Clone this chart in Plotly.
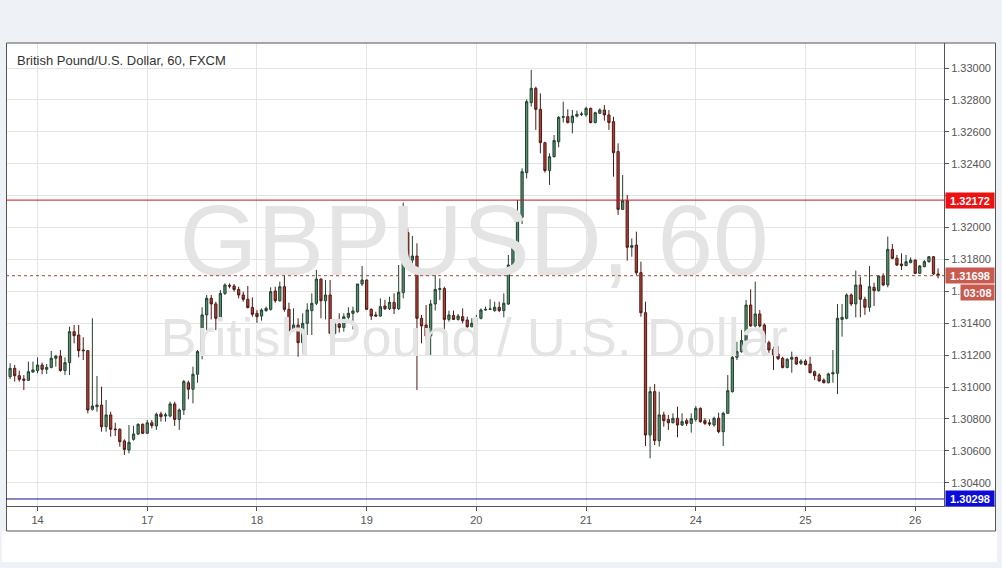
import plotly.graph_objects as go

# ---------------- data (GBPUSD, H1) ----------------
opens = [1.31065,1.31117,1.31071,1.31050,1.31042,1.31094,1.31103,1.31138,1.31111,1.31123,
         1.31180,1.31194,1.31103,1.31153,1.31347,1.31326,1.31232,1.31228,1.30860,1.30877,
         1.30887,1.30751,1.30825,1.30737,1.30735,1.30662,1.30605,1.30672,1.30705,1.30766,
         1.30710,1.30776,1.30756,1.30831,1.30818,1.30818,1.30894,1.30797,1.30856,1.31027,
         1.30986,1.31080,1.31222,1.31452,1.31556,1.31521,1.31431,1.31587,1.31638,1.31633,
         1.31612,1.31577,1.31550,1.31498,1.31462,1.31445,1.31479,1.31487,1.31602,1.31541,
         1.31629,1.31487,1.31357,1.31389,1.31278,1.31399,1.31479,1.31525,1.31677,1.31541,
         1.31577,1.31337,1.31395,1.31374,1.31437,1.31462,1.31472,1.31646,1.31671,1.31487,
         1.31452,1.31445,1.31508,1.31491,1.31531,1.31491,1.31592,1.31968,1.31796,1.31821,
         1.31431,1.31389,1.31320,1.31521,1.31612,1.31617,1.31424,1.31449,1.31424,1.31441,
         1.31420,1.31378,1.31399,1.31431,1.31483,1.31487,1.31479,1.31500,1.31479,1.31521,
         1.31765,1.31905,1.32064,1.32344,1.32783,1.32873,1.32741,1.32532,1.32357,1.32444,
         1.32538,1.32691,1.32695,1.32658,1.32699,1.32708,1.32706,1.32747,1.32658,1.32716,
         1.32737,1.32706,1.32664,1.32476,1.32114,1.32168,1.31876,1.31890,1.31717,1.31466,
         1.30699,1.30971,1.30664,1.30825,1.30797,1.30776,1.30804,1.30762,1.30789,1.30772,
         1.30797,1.30866,1.30789,1.30776,1.30762,1.30804,1.30720,1.30835,1.30971,1.31186,
         1.31222,1.31291,1.31514,1.31383,1.31458,1.31389,1.31278,1.31236,1.31207,1.31180,
         1.31123,1.31174,1.31186,1.31149,1.31163,1.31144,1.31096,1.31075,1.31044,1.31027,
         1.31082,1.31086,1.31424,1.31431,1.31577,1.31521,1.31640,1.31550,1.31500,1.31625,
         1.31604,1.31696,1.31640,1.31863,1.31807,1.31771,1.31761,1.31780,1.31796,1.31713,
         1.31755,1.31786,1.31817,1.31709]
highs = [1.31149,1.31138,1.31103,1.31075,1.31159,1.31159,1.31186,1.31153,1.31144,1.31226,
         1.31201,1.31232,1.31186,1.31378,1.31389,1.31389,1.31312,1.31232,1.31431,1.31069,
         1.31002,1.30919,1.30845,1.30776,1.30741,1.30672,1.30762,1.30756,1.30772,1.30772,
         1.30793,1.30793,1.30839,1.30845,1.30839,1.30908,1.30908,1.30866,1.31044,1.31040,
         1.31128,1.31232,1.31500,1.31577,1.31577,1.31535,1.31608,1.31650,1.31650,1.31646,
         1.31629,1.31598,1.31633,1.31562,1.31483,1.31493,1.31504,1.31625,1.31629,1.31661,
         1.31702,1.31529,1.31493,1.31431,1.31462,1.31525,1.31587,1.31734,1.31681,1.31671,
         1.31671,1.31420,1.31462,1.31462,1.31500,1.31504,1.31646,1.31759,1.31675,1.31493,
         1.31472,1.31556,1.31546,1.31566,1.31587,1.31765,1.32156,1.31995,1.31947,1.31901,
         1.31452,1.31514,1.31546,1.31713,1.31681,1.31629,1.31479,1.31479,1.31458,1.31493,
         1.31441,1.31431,1.31452,1.31493,1.31504,1.31550,1.31535,1.31535,1.31587,1.31828,
         1.31922,1.32173,1.32371,1.32804,1.32988,1.32883,1.32841,1.32538,1.32465,1.32580,
         1.32699,1.32789,1.32741,1.32737,1.32733,1.32726,1.32758,1.32752,1.32726,1.32747,
         1.32768,1.32737,1.32695,1.32528,1.32329,1.32204,1.31932,1.31974,1.31786,1.31535,
         1.31002,1.31019,1.30971,1.30845,1.30825,1.30835,1.30877,1.30835,1.30804,1.30835,
         1.30881,1.30873,1.30804,1.30797,1.30814,1.30839,1.30845,1.31075,1.31253,1.31284,
         1.31357,1.31546,1.31612,1.31661,1.31483,1.31399,1.31291,1.31253,1.31257,1.31190,
         1.31180,1.31222,1.31190,1.31174,1.31174,1.31190,1.31103,1.31086,1.31054,1.31090,
         1.31232,1.31521,1.31521,1.31587,1.31587,1.31730,1.31692,1.31566,1.31759,1.31654,
         1.31702,1.31713,1.31943,1.31897,1.31828,1.31838,1.31828,1.31813,1.31801,1.31765,
         1.31796,1.31821,1.31821,1.31744]
lows = [1.31050,1.31034,1.31034,1.30981,1.31038,1.31090,1.31086,1.31080,1.31082,1.31117,
        1.31128,1.31096,1.31075,1.31075,1.31274,1.31186,1.31169,1.30835,1.30852,1.30845,
        1.30720,1.30720,1.30689,1.30693,1.30626,1.30574,1.30584,1.30664,1.30699,1.30705,
        1.30705,1.30741,1.30731,1.30783,1.30783,1.30810,1.30756,1.30731,1.30825,1.30923,
        1.30898,1.31027,1.31174,1.31357,1.31424,1.31357,1.31424,1.31577,1.31619,1.31598,
        1.31556,1.31535,1.31493,1.31441,1.31403,1.31416,1.31472,1.31479,1.31529,1.31535,
        1.31472,1.31347,1.31347,1.31190,1.31215,1.31326,1.31326,1.31514,1.31431,1.31424,
        1.31332,1.31326,1.31341,1.31347,1.31424,1.31362,1.31466,1.31633,1.31483,1.31420,
        1.31441,1.31441,1.31483,1.31483,1.31458,1.31483,1.31556,1.31776,1.31776,1.30981,
        1.31274,1.31295,1.31201,1.31479,1.31546,1.31257,1.31410,1.31420,1.31416,1.31399,
        1.31362,1.31374,1.31395,1.31424,1.31479,1.31483,1.31472,1.31470,1.31437,1.31514,
        1.31755,1.31897,1.32022,1.32308,1.32758,1.32612,1.32465,1.32344,1.32267,1.32440,
        1.32503,1.32658,1.32653,1.32591,1.32691,1.32699,1.32695,1.32653,1.32653,1.32712,
        1.32670,1.32612,1.32319,1.32079,1.32110,1.31792,1.31817,1.31702,1.31441,1.30630,
        1.30553,1.30636,1.30626,1.30751,1.30731,1.30772,1.30685,1.30756,1.30756,1.30714,
        1.30783,1.30776,1.30762,1.30756,1.30751,1.30710,1.30630,1.30831,1.30965,1.31169,
        1.31215,1.31284,1.31378,1.31374,1.31374,1.31194,1.31211,1.31107,1.31169,1.31117,
        1.31117,1.31090,1.31138,1.31138,1.31136,1.31086,1.31044,1.31034,1.31023,1.31023,
        1.31027,1.30956,1.31316,1.31424,1.31508,1.31437,1.31437,1.31452,1.31472,1.31508,
        1.31598,1.31633,1.31625,1.31801,1.31759,1.31734,1.31759,1.31776,1.31709,1.31709,
        1.31750,1.31780,1.31702,1.31681]
closes = [1.31117,1.31071,1.31048,1.31042,1.31096,1.31107,1.31138,1.31111,1.31123,1.31180,
          1.31194,1.31103,1.31153,1.31347,1.31322,1.31228,1.31228,1.30856,1.30881,1.30887,
          1.30751,1.30825,1.30735,1.30733,1.30657,1.30609,1.30653,1.30705,1.30766,1.30710,
          1.30776,1.30758,1.30829,1.30814,1.30825,1.30894,1.30797,1.30856,1.31034,1.30986,
          1.31080,1.31222,1.31452,1.31556,1.31521,1.31431,1.31587,1.31640,1.31633,1.31612,
          1.31577,1.31550,1.31498,1.31456,1.31441,1.31483,1.31493,1.31598,1.31541,1.31629,
          1.31487,1.31357,1.31389,1.31278,1.31399,1.31483,1.31525,1.31677,1.31541,1.31577,
          1.31337,1.31395,1.31374,1.31441,1.31462,1.31477,1.31646,1.31671,1.31487,1.31445,
          1.31445,1.31504,1.31491,1.31531,1.31491,1.31594,1.31968,1.31796,1.31821,1.31431,
          1.31383,1.31320,1.31521,1.31612,1.31617,1.31424,1.31452,1.31424,1.31445,1.31416,
          1.31378,1.31399,1.31431,1.31483,1.31487,1.31489,1.31500,1.31479,1.31525,1.31765,
          1.31905,1.32064,1.32350,1.32789,1.32873,1.32741,1.32532,1.32357,1.32444,1.32545,
          1.32691,1.32695,1.32658,1.32699,1.32710,1.32712,1.32747,1.32658,1.32720,1.32737,
          1.32706,1.32658,1.32469,1.32114,1.32168,1.31876,1.31886,1.31717,1.31466,1.30699,
          1.30971,1.30664,1.30825,1.30789,1.30776,1.30804,1.30762,1.30783,1.30772,1.30802,
          1.30866,1.30783,1.30772,1.30768,1.30804,1.30720,1.30835,1.30977,1.31186,1.31222,
          1.31291,1.31514,1.31383,1.31458,1.31383,1.31278,1.31232,1.31201,1.31178,1.31123,
          1.31174,1.31186,1.31144,1.31163,1.31140,1.31090,1.31071,1.31038,1.31027,1.31082,
          1.31090,1.31431,1.31437,1.31577,1.31521,1.31640,1.31550,1.31500,1.31629,1.31604,
          1.31696,1.31640,1.31863,1.31807,1.31765,1.31761,1.31786,1.31796,1.31713,1.31759,
          1.31786,1.31817,1.31709,1.31698]
bars = list(range(len(opens)))

day_labels = ["14", "17", "18", "19", "20", "21", "24", "25", "26"]
day_first_bar = [6, 30, 54, 78, 102, 126, 150, 174, 198]
price_ticks = [1.304, 1.306, 1.308, 1.310, 1.312, 1.314, 1.316,
               1.318, 1.320, 1.322, 1.324, 1.326, 1.328, 1.330]

resistance = 1.32172
support = 1.30298
last_price = 1.31698
countdown = "03:08"
title_text = "British Pound/U.S. Dollar, 60, FXCM"
watermark_1 = "GBPUSD, 60"
watermark_2 = "British Pound / U.S. Dollar"

# ---------------- layout geometry ----------------
W, H = 1002, 568
PL, PR, PT, PB = 6, 944, 43, 506          # plot area in pixels
FONT = "Liberation Sans, Arial, sans-serif"


def px(x):
    return (x - PL) / (PR - PL)


def py(y):
    return (PB - y) / (PB - PT)


# hide the tick label that sits under the resistance price box (as in the reference)
tick_text = ["" if abs(v - 1.322) < 1e-9 else "%.5f" % v for v in price_ticks]

fig = go.Figure()

# watermark (drawn first, so it sits under the candles)
fig.add_trace(go.Scatter(
    x=[101.5, 101.5], y=[1.31858, 1.31282],
    mode="text", text=[watermark_1, watermark_2],
    textfont=dict(family=FONT, size=[100, 54], color="#e4e4e4"),
    textposition="middle center", hoverinfo="skip", showlegend=False,
))

fig.add_trace(go.Candlestick(
    x=bars, open=opens, high=highs, low=lows, close=closes,
    increasing=dict(fillcolor="#53926d", line=dict(color="#24402f", width=1)),
    decreasing=dict(fillcolor="#b23f36", line=dict(color="#4d1a15", width=1)),
    whiskerwidth=0, showlegend=False, hoverinfo="skip",
))

shapes = [
    # white strip under the chart frame
    dict(type="rect", xref="paper", yref="paper", layer="below",
         x0=px(2), x1=px(997), y0=py(562), y1=py(531),
         fillcolor="white", line=dict(width=0)),
    # white axis areas inside the frame
    dict(type="rect", xref="paper", yref="paper", layer="below",
         x0=px(6.5), x1=px(995.5), y0=py(531), y1=py(43),
         fillcolor="white", line=dict(width=0)),
    # frame
    dict(type="rect", xref="paper", yref="paper", layer="above",
         x0=px(6.5), x1=px(995.5), y0=py(531), y1=py(43),
         line=dict(color="#555555", width=1)),
    dict(type="line", xref="paper", yref="paper", layer="above",
         x0=px(944), x1=px(995.5), y0=0, y1=0,
         line=dict(color="#555555", width=1)),
    # horizontal levels
    dict(type="line", xref="paper", yref="y", layer="above",
         x0=0, x1=1, y0=resistance, y1=resistance,
         line=dict(color="#c3161c", width=1)),
    dict(type="line", xref="paper", yref="y", layer="above",
         x0=0, x1=1, y0=support, y1=support,
         line=dict(color="#101080", width=1)),
    dict(type="line", xref="paper", yref="y", layer="above",
         x0=0, x1=1, y0=last_price, y1=last_price,
         line=dict(color="#a8423c", width=1, dash="dot")),
]

annotations = [
    dict(text=title_text, xref="paper", yref="paper", x=px(15), y=py(60),
         xanchor="left", yanchor="middle", showarrow=False,
         font=dict(family=FONT, size=13, color="#333333")),
    dict(text="<b>%.5f</b>" % resistance, xref="paper", yref="y", x=1, y=resistance,
         xanchor="left", yanchor="middle", showarrow=False, xshift=1,
         bgcolor="#ee1111", width=46, height=13,
         font=dict(family=FONT, size=11, color="white")),
    dict(text="<b>%.5f</b>" % support, xref="paper", yref="y", x=1, y=support,
         xanchor="left", yanchor="middle", showarrow=False, xshift=1,
         bgcolor="#0b0bdc", width=46, height=13,
         font=dict(family=FONT, size=11, color="white")),
    dict(text="<b>%.5f</b>" % last_price, xref="paper", yref="y", x=1, y=last_price,
         xanchor="left", yanchor="middle", showarrow=False, xshift=1,
         bgcolor="#c85a50", width=46, height=13,
         font=dict(family=FONT, size=11, color="white")),
    dict(text="<b>%s</b>" % countdown, xref="paper", yref="paper", x=px(995), y=py(292),
         xanchor="right", yanchor="middle", showarrow=False,
         bgcolor="#c85a50", width=31, height=13,
         font=dict(family=FONT, size=11, color="white")),
]

fig.update_layout(
    width=W, height=H,
    margin=dict(l=PL, r=W - PR, t=PT, b=H - PB, pad=0),
    paper_bgcolor="#eef1f5", plot_bgcolor="white",
    showlegend=False,
    shapes=shapes, annotations=annotations,
    xaxis=dict(
        range=[-0.9, 204.3], rangeslider=dict(visible=False),
        tickmode="array", tickvals=day_first_bar, ticktext=day_labels,
        showgrid=True, gridcolor="#e4e4e4", gridwidth=1,
        showline=True, linecolor="#555555", linewidth=1,
        ticks="outside", ticklen=4, tickcolor="#555555",
        tickfont=dict(family=FONT, size=11, color="#555555"),
        zeroline=False, fixedrange=True,
    ),
    yaxis=dict(
        side="right", range=[1.30254, 1.33157],
        tickmode="array", tickvals=price_ticks, ticktext=tick_text,
        showgrid=True, gridcolor="#e4e4e4", gridwidth=1,
        showline=True, linecolor="#555555", linewidth=1,
        ticks="outside", ticklen=4, tickcolor="#555555",
        tickfont=dict(family=FONT, size=11, color="#555555"),
        zeroline=False, fixedrange=True,
    ),
)

fig.write_html("out.html", config={"displayModeBar": False},
               post_script="document.body.style.margin='0';")
